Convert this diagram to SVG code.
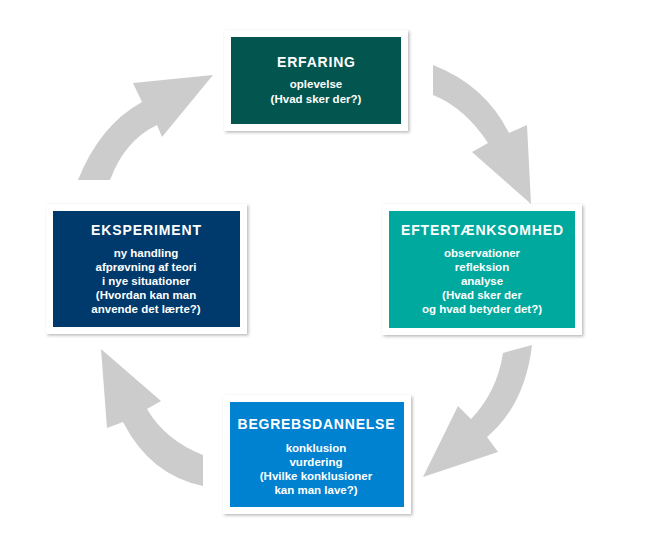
<svg xmlns="http://www.w3.org/2000/svg" width="650" height="553" viewBox="0 0 650 553">
<defs>
<filter id="sh" x="-10%" y="-10%" width="130%" height="130%">
<feDropShadow dx="1.5" dy="1.5" stdDeviation="1.5" flood-color="#000" flood-opacity="0.28"/>
</filter>
<style>
.frame{fill:#ffffff;filter:url(#sh)}
.arrow{fill:#cccccc}
text{font-family:"Liberation Sans",Arial,sans-serif;font-weight:bold;fill:#ffffff;text-anchor:middle}
.t{font-size:14px}
.b{font-size:11.5px}
</style>
</defs>
<rect width="650" height="553" fill="#ffffff"/>
<g id="connectors">
<path class="arrow" d="M78,180 Q100,125 142,102 L133,83 L213,75 L162,137 L157,125 Q125,140 110,180 Z"/>
<path class="arrow" d="M433,65 Q485,85 509,133 L527,125 L531,204 L472,152 L488,143 Q465,108 433,95 Z"/>
<path class="arrow" d="M503,353 L532,345 Q525,405 487,437 L498,452 L423,477 L458,406 L471,419 Q497,392 503,353 Z"/>
<path class="arrow" d="M203,455 Q165,440 147,409 L161,401 L101,349 L107,428 L123,422 Q150,475 203,486 Z"/>
</g>
<g id="erfaring">
<rect class="frame" x="224" y="30" width="184" height="101"/>
<rect x="231" y="37" width="170" height="87" fill="#035650"/>
<text class="t" x="316" y="67" textLength="78" lengthAdjust="spacing">ERFARING</text>
<text class="b" x="316" y="88">oplevelse</text>
<text class="b" x="316" y="103">(Hvad sker der?)</text>
</g>
<g id="eftertaenksomhed">
<rect class="frame" x="382" y="204" width="200" height="131"/>
<rect x="389" y="211" width="186" height="117" fill="#00a99d"/>
<text class="t" x="482" y="235" textLength="162" lengthAdjust="spacing">EFTERTÆNKSOMHED</text>
<text class="b" x="482" y="257">observationer</text>
<text class="b" x="482" y="271">refleksion</text>
<text class="b" x="482" y="285">analyse</text>
<text class="b" x="482" y="299">(Hvad sker der</text>
<text class="b" x="482" y="313">og hvad betyder det?)</text>
</g>
<g id="eksperiment">
<rect class="frame" x="46" y="204" width="201" height="130"/>
<rect x="53" y="211" width="187" height="116" fill="#003a6c"/>
<text class="t" x="146" y="235" textLength="110" lengthAdjust="spacing">EKSPERIMENT</text>
<text class="b" x="146" y="257">ny handling</text>
<text class="b" x="146" y="271">afprøvning af teori</text>
<text class="b" x="146" y="285">i nye situationer</text>
<text class="b" x="146" y="299">(Hvordan kan man</text>
<text class="b" x="146" y="313">anvende det lærte?)</text>
</g>
<g id="begrebsdannelse">
<rect class="frame" x="223" y="395" width="188" height="119"/>
<rect x="230" y="402" width="174" height="105" fill="#0082d0"/>
<text class="t" x="316" y="429" textLength="157" lengthAdjust="spacing">BEGREBSDANNELSE</text>
<text class="b" x="316" y="452">konklusion</text>
<text class="b" x="316" y="466">vurdering</text>
<text class="b" x="316" y="480">(Hvilke konklusioner</text>
<text class="b" x="316" y="494">kan man lave?)</text>
</g>
</svg>
